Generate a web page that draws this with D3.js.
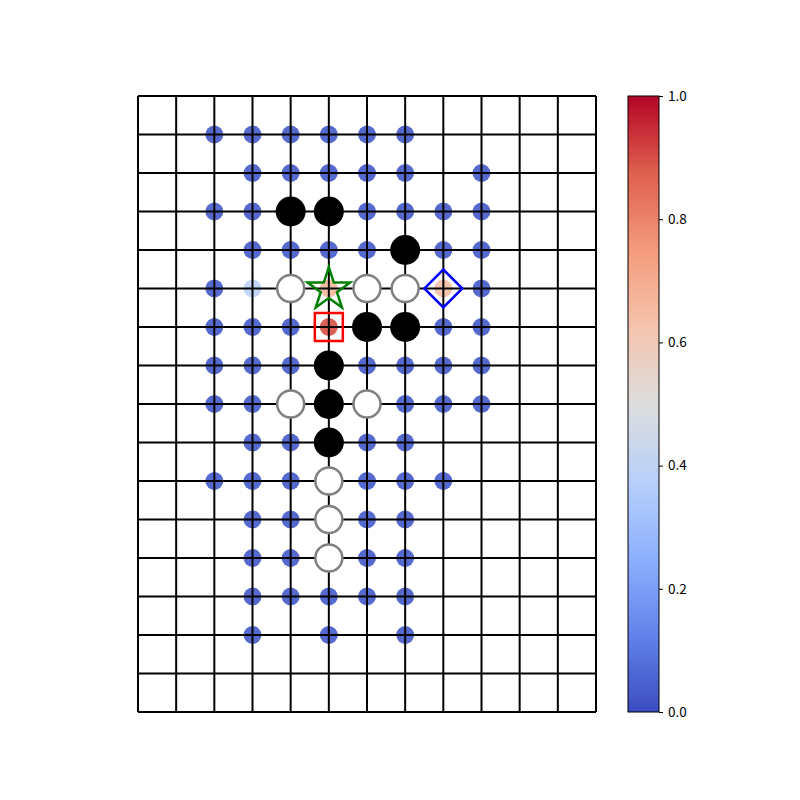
<!DOCTYPE html>
<meta charset="utf-8">
<style>
body { margin: 0; background: #fff; }
.grid line { stroke: #000; stroke-width: 2px; }
.cbar text { font-family: "Noto Sans CJK SC", "DejaVu Sans", sans-serif; font-size: 13.5px; fill: #000; }
</style>
<body>
<script src="https://d3js.org/d3.v7.min.js"></script>
<script>

// board size
var nCols = 12, nRows = 16;

// policy dots: [col, row, value]
var policy = [
  [2,1,0.03],[3,1,0.03],[4,1,0.03],[5,1,0.03],[6,1,0.03],[7,1,0.03],
  [3,2,0.03],[4,2,0.03],[5,2,0.03],[6,2,0.03],[7,2,0.03],[9,2,0.03],
  [2,3,0.03],[3,3,0.03],[6,3,0.03],[7,3,0.03],[8,3,0.03],[9,3,0.03],
  [3,4,0.03],[4,4,0.03],[5,4,0.03],[6,4,0.03],[8,4,0.03],[9,4,0.03],
  [2,5,0.03],[3,5,0.39],[5,5,0.66],[8,5,0.64],[9,5,0.03],
  [2,6,0.03],[3,6,0.03],[4,6,0.03],[5,6,0.9],[8,6,0.03],[9,6,0.03],
  [2,7,0.03],[3,7,0.03],[4,7,0.03],[6,7,0.03],[7,7,0.03],[8,7,0.03],[9,7,0.03],
  [2,8,0.03],[3,8,0.03],[7,8,0.03],[8,8,0.03],[9,8,0.03],
  [3,9,0.03],[4,9,0.03],[6,9,0.03],[7,9,0.03],
  [2,10,0.03],[3,10,0.03],[4,10,0.03],[6,10,0.03],[7,10,0.03],[8,10,0.03],
  [3,11,0.03],[4,11,0.03],[6,11,0.03],[7,11,0.03],
  [3,12,0.03],[4,12,0.03],[6,12,0.03],[7,12,0.03],
  [3,13,0.03],[4,13,0.03],[5,13,0.03],[6,13,0.03],[7,13,0.03],
  [3,14,0.03],[5,14,0.03],[7,14,0.03]
];

var blackStones = [[4,3],[5,3],[7,4],[6,6],[7,6],[5,7],[5,8],[5,9]];
var whiteStones = [[4,5],[6,5],[7,5],[4,8],[6,8],[5,10],[5,11],[5,12]];

var starMark = [5,5];
var squareMark = [5,6];
var diamondMark = [8,5];

var cbTicks = [0, 0.2, 0.4, 0.6, 0.8, 1.0];

// coolwarm colormap anchors
var cwStops = [0,0.125,0.25,0.375,0.5,0.625,0.75,0.875,1];
var cwColors = ["#3b4cc0","#6282ea","#8db0fe","#b8d0f9","#dddddd","#f5c4ad","#f49a7b","#de604d","#b40426"];

var color = d3.scaleLinear().domain(cwStops).range(cwColors).interpolate(d3.interpolateRgb);

var svg = d3.select("body").append("svg")
    .attr("width", 800)
    .attr("height", 800);

var x = d3.scaleLinear().domain([0, nCols]).range([138, 596]);
var y = d3.scaleLinear().domain([0, nRows]).range([96, 712]);

// policy dots under the grid
svg.append("g").selectAll("circle")
    .data(policy)
  .enter().append("circle")
    .attr("cx", function(d) { return x(d[0]); })
    .attr("cy", function(d) { return y(d[1]); })
    .attr("r", 9)
    .attr("fill", function(d) { return color(d[2]); })
    .attr("fill-opacity", 0.9);

// grid
var grid = svg.append("g").attr("class", "grid");
grid.selectAll(".v")
    .data(d3.range(nCols + 1))
  .enter().append("line")
    .attr("x1", function(d) { return x(d); })
    .attr("x2", function(d) { return x(d); })
    .attr("y1", y(0)).attr("y2", y(nRows));
grid.selectAll(".h")
    .data(d3.range(nRows + 1))
  .enter().append("line")
    .attr("y1", function(d) { return y(d); })
    .attr("y2", function(d) { return y(d); })
    .attr("x1", x(0)).attr("x2", x(nCols));

// stones
svg.append("g").selectAll("circle")
    .data(blackStones)
  .enter().append("circle")
    .attr("cx", function(d) { return x(d[0]); })
    .attr("cy", function(d) { return y(d[1]); })
    .attr("r", 15)
    .attr("fill", "#000");

svg.append("g").selectAll("circle")
    .data(whiteStones)
  .enter().append("circle")
    .attr("cx", function(d) { return x(d[0]); })
    .attr("cy", function(d) { return y(d[1]); })
    .attr("r", 13.5)
    .attr("fill", "#fff")
    .attr("stroke", "#808080")
    .attr("stroke-width", 2.5);

// markers
var star = d3.symbol().type(d3.symbolStar).size(560);
svg.append("path")
    .attr("d", star)
    .attr("transform", "translate(" + x(starMark[0]) + "," + (y(starMark[1]) + 1) + ")")
    .attr("fill", "none")
    .attr("stroke", "green")
    .attr("stroke-width", 2.5);

svg.append("rect")
    .attr("x", x(squareMark[0]) - 14)
    .attr("y", y(squareMark[1]) - 14)
    .attr("width", 28)
    .attr("height", 28)
    .attr("fill", "none")
    .attr("stroke", "red")
    .attr("stroke-width", 2.5);

var dx = x(diamondMark[0]), dy = y(diamondMark[1]);
svg.append("path")
    .attr("d", "M" + dx + "," + (dy - 19) + "L" + (dx + 19) + "," + dy + "L" + dx + "," + (dy + 19) + "L" + (dx - 19) + "," + dy + "Z")
    .attr("fill", "none")
    .attr("stroke", "blue")
    .attr("stroke-width", 2.5);

// colorbar
var cbX = 628, cbW = 31;
var cb = d3.scaleLinear().domain([0, 1]).range([712, 96]);

var grad = svg.append("defs").append("linearGradient")
    .attr("id", "cw")
    .attr("x1", 0).attr("y1", 1).attr("x2", 0).attr("y2", 0);
d3.range(0, 1.0001, 0.03125).forEach(function(t) {
  grad.append("stop").attr("offset", t).attr("stop-color", color(t));
});

svg.append("rect")
    .attr("x", cbX).attr("y", cb(1))
    .attr("width", cbW).attr("height", cb(0) - cb(1))
    .attr("fill", "url(#cw)")
    .attr("stroke", "#000")
    .attr("stroke-width", 1);

svg.append("g")
    .attr("class", "cbar")
    .attr("transform", "translate(" + (cbX + cbW) + ",0)")
    .call(d3.axisRight(cb).tickValues(cbTicks).tickFormat(d3.format(".1f")).tickSize(4).tickPadding(5))
    .call(function(g) { g.select(".domain").remove(); });

</script>
</body>
